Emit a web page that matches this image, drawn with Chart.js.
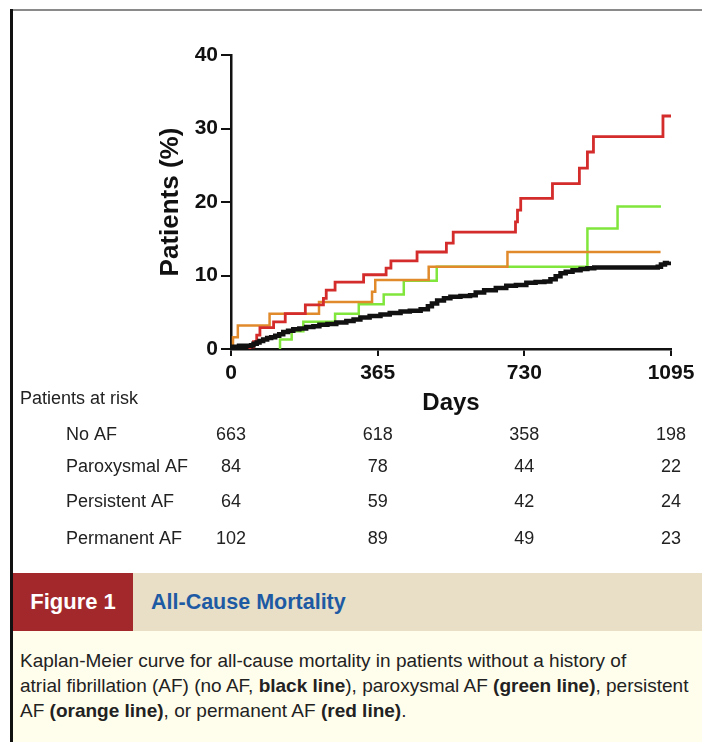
<!DOCTYPE html>
<html>
<head>
<meta charset="utf-8">
<script src="https://cdn.jsdelivr.net/npm/chart.js@4.4.1/dist/chart.umd.min.js"></script>
<style>
  html, body { margin: 0; padding: 0; background: #fff; }
  #page { position: relative; width: 702px; height: 742px; overflow: hidden; font-family: "Liberation Sans", Arial, sans-serif; }
  #frame-top { position: absolute; left: 10px; top: 9px; right: 0; height: 2px; background: #8a8a8a; }
  #frame-left { position: absolute; left: 10px; top: 9px; width: 3px; bottom: 0; background: #111; }
  #km { position: absolute; left: 0; top: 0; }
  #cap-head { position: absolute; left: 13px; top: 573px; width: 689px; height: 58px; background: #e8dfc6; }
  #fig-tag { position: absolute; left: 0; top: 0; width: 120px; height: 58px; background: #a3282b; color: #fff;
             font-weight: bold; font-size: 22px; line-height: 58px; text-align: center; }
  #fig-title { position: absolute; left: 138px; top: 0; line-height: 58px; font-size: 21.5px; font-weight: bold; color: #1d5aa3; }
  #cap-body { position: absolute; left: 13px; top: 631px; width: 689px; height: 111px; background: #fffdec;
              font-size: 19px; line-height: 25px; color: #222; padding: 17px 0 0 7px; box-sizing: border-box; white-space: nowrap; }
</style>
</head>
<body>
<div id="page">
  <div id="frame-top"></div>
  <div id="frame-left"></div>
  <canvas id="km" width="702" height="560"></canvas>
  <div id="cap-head">
    <div id="fig-tag">Figure 1</div>
    <div id="fig-title">All-Cause Mortality</div>
  </div>
  <div id="cap-body">
    Kaplan-Meier curve for all-cause mortality in patients without a history of<br>
    atrial fibrillation (AF) (no AF, <b>black line</b>), paroxysmal AF <b>(green line)</b>, persistent<br>
    AF <b>(orange line)</b>, or permanent AF <b>(red line)</b>.
  </div>
</div>

<script>
// Axis ticks
const dayTicks = [0, 365, 730, 1095];

// No AF (black)
const noAfDays = [0, 3, 20, 50, 56, 64, 71, 80, 90, 100, 110, 120, 130, 142, 155, 170, 187, 205, 220, 240,
  262, 287, 305, 322, 345, 372, 395, 422, 445, 472, 490, 500, 513, 530, 546, 571, 595, 609, 630, 659,
  685, 709, 735, 758, 780, 795, 808, 820, 833, 850, 870, 887, 904, 960, 1062, 1070, 1080, 1090];
const noAfPct = [0, 0.3, 0.45, 0.5, 0.7, 0.9, 1.1, 1.3, 1.5, 1.6, 1.8, 2.0, 2.3, 2.5, 2.7, 2.8, 3.0, 3.1, 3.3, 3.4,
  3.6, 3.8, 4.0, 4.3, 4.5, 4.7, 4.9, 5.1, 5.2, 5.4, 5.8, 6.2, 6.6, 6.9, 7.1, 7.2, 7.3, 7.7, 8.0, 8.3,
  8.6, 8.7, 9.0, 9.1, 9.2, 9.5, 9.9, 10.3, 10.5, 10.7, 10.9, 11.0, 11.1, 11.1, 11.2, 11.5, 11.7, 11.9];

// Paroxysmal AF (green)
const paroxDays = [122, 122, 151, 180, 259, 318, 380, 430, 512, 887, 962, 1070];
const paroxPct  = [0, 1.3, 2.4, 3.7, 4.8, 6.1, 7.4, 9.3, 11.2, 16.4, 19.4, 19.4];

// Persistent AF (orange)
const persDays = [0, 5, 17, 96, 219, 351, 359, 492, 688, 1069];
const persPct  = [0, 1.6, 3.2, 4.8, 6.4, 7.8, 9.4, 11.2, 13.2, 13.2];

// Permanent AF (red)
const permDays = [47, 47, 56, 64, 72, 106, 135, 185, 230, 237, 259, 330, 386, 398, 463, 536, 553,
  708, 713, 721, 800, 867, 887, 902, 1075, 1095];
const permPct  = [0, 0.3, 1.0, 1.9, 2.9, 3.7, 4.8, 6.0, 6.9, 8.0, 9.1, 10.1, 11.0, 12.0, 13.2, 14.4, 15.9,
  17.3, 18.9, 20.5, 22.5, 24.6, 26.8, 28.9, 31.7, 31.7];

// Patients at risk table
const riskGroups = ['No AF', 'Paroxysmal AF', 'Persistent AF', 'Permanent AF'];
const riskNoAf  = [663, 618, 358, 198];
const riskParox = [84, 78, 44, 22];
const riskPers  = [64, 59, 42, 24];
const riskPerm  = [102, 89, 49, 23];

const FONT = '"Liberation Sans", Arial, sans-serif';

function pts(days, pct) {
  return days.map((d, i) => ({ x: d, y: pct[i] }));
}

const riskTable = {
  id: 'riskTable',
  afterDraw(chart) {
    const ctx = chart.ctx;
    const xs = chart.scales.x;
    const rows = [riskNoAf, riskParox, riskPers, riskPerm];
    const rowY = [435, 467, 502, 539];
    ctx.save();
    ctx.font = '18px ' + FONT;
    ctx.fillStyle = '#222';
    ctx.textBaseline = 'middle';
    ctx.textAlign = 'left';
    ctx.fillText('Patients at risk', 20, 399);
    riskGroups.forEach((g, i) => {
      ctx.textAlign = 'left';
      ctx.fillText(g, 66, rowY[i]);
      ctx.textAlign = 'center';
      rows[i].forEach((n, j) => ctx.fillText(String(n), xs.getPixelForValue(dayTicks[j]), rowY[i]));
    });
    ctx.restore();
  }
};

const line = (data, color, width) => ({
  data, borderColor: color, borderWidth: width, stepped: 'before',
  pointRadius: 0, fill: false, tension: 0
});

new Chart(document.getElementById('km'), {
  type: 'line',
  data: {
    datasets: [
      line(pts(noAfDays, noAfPct), '#111111', 4.5),
      line(pts(permDays, permPct), '#d42b2b', 2.8),
      line(pts(persDays, persPct), '#e08a2c', 2.5),
      line(pts(paroxDays, paroxPct), '#80e63c', 2.5)
    ]
  },
  options: {
    responsive: false,
    animation: false,
    layout: { padding: { left: 150, right: 31, top: 55, bottom: 140 } },
    plugins: { legend: { display: false }, tooltip: { enabled: false } },
    scales: {
      x: {
        type: 'linear', min: 0, max: 1095,
        afterBuildTicks: s => { s.ticks = dayTicks.map(v => ({ value: v })); },
        afterFit: s => { s.height = 71; },
        border: { display: true, color: '#111', width: 2.5 },
        grid: { drawOnChartArea: false, drawTicks: true, tickLength: 7, color: '#111', lineWidth: 2 },
        ticks: { color: '#111', padding: 5, maxRotation: 0, autoSkip: false,
                 callback: v => String(v),
                 font: { family: FONT, size: 21, weight: 'bold' } },
        title: { display: true, text: 'Days', color: '#111', padding: { top: 0, bottom: 2.5 },
                 font: { family: FONT, size: 24, weight: 'bold' } }
      },
      y: {
        min: 0, max: 40,
        afterFit: s => { s.width = 81; },
        border: { display: true, color: '#111', width: 2.5 },
        grid: { drawOnChartArea: false, drawTicks: true, tickLength: 10, color: '#111', lineWidth: 2 },
        ticks: { stepSize: 10, color: '#111', padding: 3,
                 font: { family: FONT, size: 21, weight: 'bold' } },
        title: { display: true, text: 'Patients (%)', color: '#111', padding: { top: 5, bottom: 0 },
                 font: { family: FONT, size: 26, weight: 'bold' } }
      }
    }
  },
  plugins: [riskTable]
});
</script>
</body>
</html>
